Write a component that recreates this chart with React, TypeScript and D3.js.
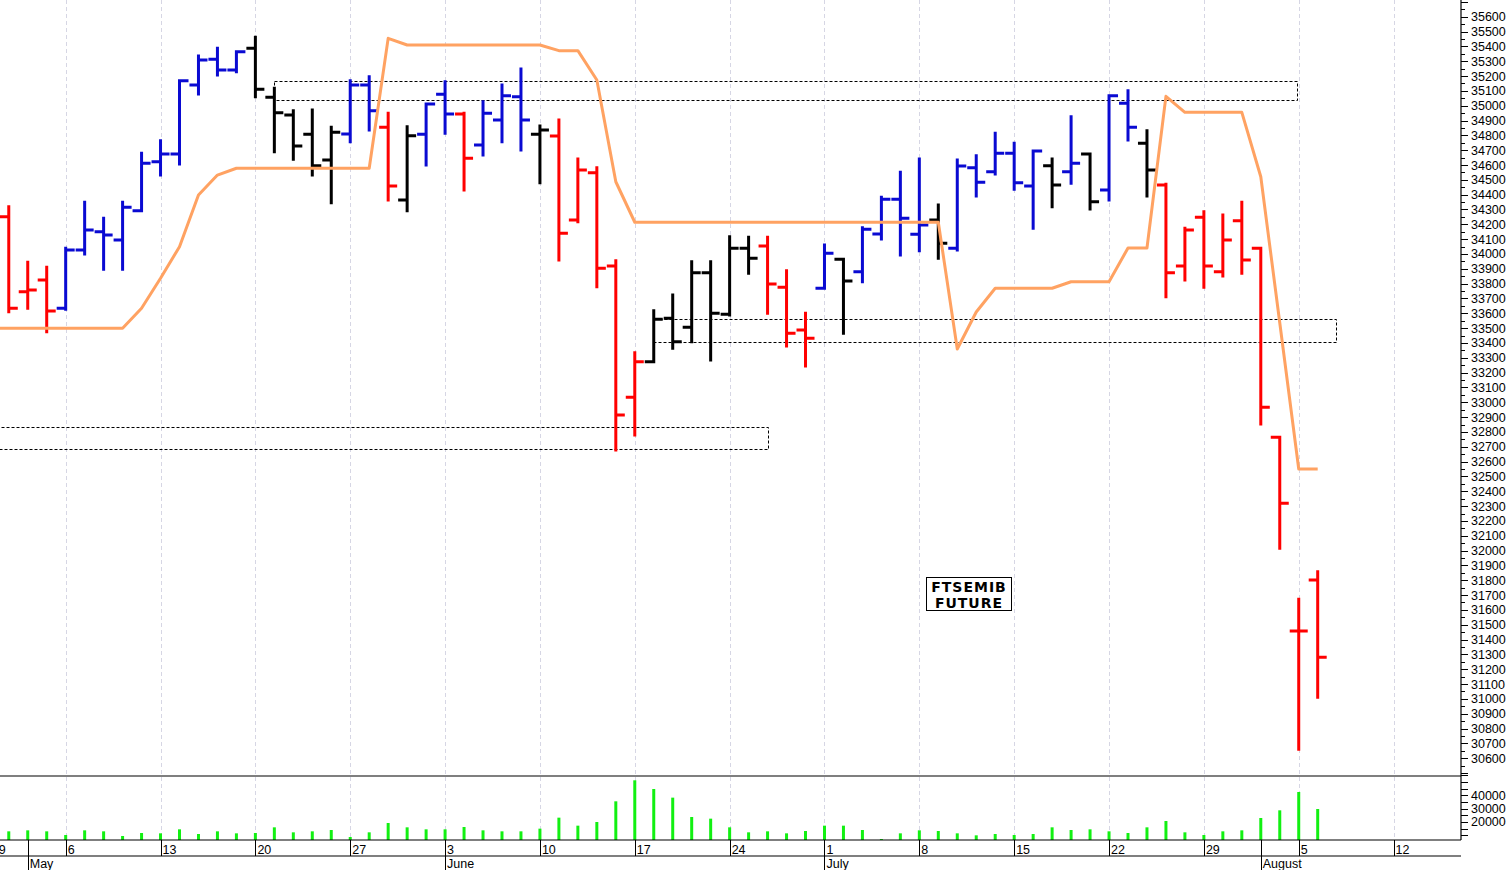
import React, { useRef, useEffect } from 'react';
import * as d3 from 'd3';

// trading calendar (Italian futures market)
const firstDay = new Date(2024, 3, 29);
const lastDay = new Date(2024, 7, 16);
const holidays = ['2024-05-01', '2024-08-15'];

// daily OHLC, FTSEMIB future, from 29 Apr 2024
const opens = [
  34350, 34251, 33746, 33825, 33634, 34027, 34150, 34094, 34292, 34622,
  34674, 35139, 35313, 35241, 35387, 35057, 34937, 34807, 34634, 34809,
  35139, 34854, 34364, 34807, 35077, 34944, 34735, 34903, 35061, 34807,
  34796, 34229, 34548, 33919, 33034, 33274, 33566, 33506, 33874, 33594,
  34038, 34054, 33775, 33487, 33769, 33964, 33880, 34135, 34369, 34133,
  34229, 34038, 34582, 34555, 34679, 34458, 34595, 34555, 34674, 34431,
  35016, 34746, 34465, 33919, 34247, 33880, 34224, 34038, 32764, 31458,
  31802,
];
const highs = [
  34420, 34319, 33944, 33910, 34038, 34349, 34241, 34349, 34679, 34764,
  35168, 35335, 35387, 35364, 35461, 35117, 34966, 34971, 34854, 35168,
  35195, 34949, 34858, 35011, 35162, 34949, 35027, 35139, 35247, 34863,
  34903, 34640, 34582, 33955, 33334, 33618, 33723, 33948, 33948, 34117,
  34112, 34112, 33887, 33600, 34061, 33964, 34177, 34382, 34551, 34640,
  34330, 34634, 34663, 34814, 34746, 34694, 34640, 34926, 34674, 35067,
  35101, 34831, 34470, 34173, 34285, 34263, 34349, 34038, 32764, 31671,
  31858,
];
const lows = [
  34180, 33611, 33634, 33476, 33627, 34000, 33897, 33897, 34292, 34533,
  34607, 35079, 35207, 35229, 35061, 34690, 34638, 34533, 34346, 34757,
  34836, 34364, 34292, 34600, 34814, 34431, 34667, 34757, 34701, 34481,
  33959, 34218, 33779, 32678, 32779, 33274, 33364, 33409, 33285, 33589,
  33870, 33600, 33380, 33245, 33769, 33465, 33813, 34101, 33993, 34022,
  33971, 34027, 34391, 34539, 34436, 34173, 34319, 34477, 34303, 34364,
  34769, 34391, 33712, 33825, 33775, 33852, 33870, 32854, 32015, 30660,
  31011,
];
const closes = [
  34280, 33634, 33757, 33616, 34027, 34162, 34128, 34315, 34611, 34674,
  35168, 35308, 35241, 35364, 35110, 34953, 34728, 34595, 34820, 35139,
  34966, 34458, 34798, 35011, 34944, 34645, 34949, 35067, 34903, 34836,
  34139, 34566, 33903, 32914, 33274, 33560, 33409, 33874, 33600, 34038,
  33971, 33798, 33465, 33431, 34005, 33818, 34166, 34369, 34241, 34195,
  34072, 34593, 34483, 34679, 34481, 34694, 34465, 34611, 34353, 35067,
  34854, 34566, 33874, 34162, 33919, 34094, 33959, 32966, 32319, 31458,
  31280,
];
// bar colour code: b = blue, d = red, n = black
const barState = 'ddddbbbbbbbbbbnnnnnbbdnbbdbbbndddddnnnnnndddbnbbbbnbbbbbnbnbbnddddddddd';

const volumes = [
  12000, 13000, 13750, 13000, 10250, 13750, 13000, 9500, 11750, 11500,
  14500, 11000, 13000, 11500, 11750, 16000, 12250, 13000, 14000, 8750,
  12250, 19250, 16000, 14500, 14500, 16250, 13750, 13000, 13000, 15000,
  23250, 17250, 20000, 35500, 51250, 44750, 38250, 23750, 22500, 16000,
  12250, 13000, 11500, 13250, 17250, 17250, 14000, 7250, 11500, 13750,
  13250, 11500, 10000, 11000, 10250, 11000, 16000, 14000, 14500, 13000,
  11750, 16000, 20750, 12250, 10250, 13000, 13750, 23000, 28750, 42500,
  29750,
];

// orange stop line
const stopLine = [
  33499, 33499, 33499, 33499, 33499, 33499, 33499, 33499, 33634, 33836,
  34049, 34398, 34532, 34578, 34578, 34578, 34578, 34578, 34578, 34578,
  34578, 35454, 35409, 35409, 35409, 35409, 35409, 35409, 35409, 35409,
  35371, 35371, 35173, 34487, 34214, 34214, 34214, 34214, 34214, 34214,
  34214, 34214, 34214, 34214, 34214, 34214, 34214, 34214, 34214, 34214,
  34214, 33359, 33609, 33769, 33769, 33769, 33769, 33813, 33813, 33813,
  34040, 34040, 35063, 34955, 34955, 34955, 34955, 34521, 33536, 32550,
  32550,
];

// dashed zones: [start bar, end bar, low, high]
const zones: [number, number, number, number][] = [
  [15, 68.95, 35038, 35166],
  [35, 70.93, 33404, 33560],
  [-1, 40.99, 32685, 32831],
];

const priceLabels = d3.range(30600, 35601, 100);
const priceTicks = d3.range(30500, 35701, 50);
const volLabels = [20000, 30000, 40000];
const volTicks = d3.range(10000, 55001, 5000);

const colors = {
  up: '#0a0ad2',
  down: '#ff0000',
  neutral: '#000000',
  stop: '#ffa262',
  volume: '#12f012',
  grid: '#d6d6e4',
  text: '#000',
};

const App: React.FC = () => {
  const svgRef = useRef<SVGSVGElement | null>(null);

  useEffect(() => {
    if (!svgRef.current) return;
    const svg = d3.select(svgRef.current);
    svg.selectAll('*').remove();

    const width = 1508;
    const height = 870;
    const axisX = 1461;
    const mainBottom = 776;
    const volBottom = 840;
    const dateBottom = 856;
    const tick = 9;

    const fmt = d3.timeFormat('%Y-%m-%d');
    const days = d3.timeDay
      .range(firstDay, lastDay)
      .filter((d) => d.getDay() !== 0 && d.getDay() !== 6 && !holidays.includes(fmt(d)));

    const x = d3.scaleLinear().domain([0, 70]).range([-10.2, 1317.7]);
    const y = d3.scaleLinear().domain([30600, 35600]).range([758.2, 16.7]);
    const vy = d3.scaleLinear().domain([6500, 54250]).range([volBottom, 776.3]);

    svg.attr('width', width).attr('height', height);
    svg.append('rect').attr('width', width).attr('height', height).attr('fill', '#fff');

    // week and month boundaries
    const weekIdx: number[] = [];
    const monthIdx: number[] = [];
    days.forEach((d, i) => {
      if (i === 0 || d.getDay() < days[i - 1].getDay()) weekIdx.push(i);
      if (i > 0 && d.getMonth() !== days[i - 1].getMonth()) monthIdx.push(i);
    });
    const visWeeks = weekIdx.filter((i) => x(i) < axisX - 20);

    // grid
    svg.append('g')
      .selectAll('line')
      .data(visWeeks)
      .join('line')
      .attr('x1', (i) => Math.round(x(i)) + 0.5)
      .attr('x2', (i) => Math.round(x(i)) + 0.5)
      .attr('y1', 0)
      .attr('y2', volBottom)
      .attr('stroke', colors.grid)
      .attr('stroke-width', 1)
      .attr('stroke-dasharray', '4,3');

    // dashed zones
    svg.append('g')
      .selectAll('rect')
      .data(zones)
      .join('rect')
      .attr('x', (z) => Math.round(x(z[0])) + 0.5)
      .attr('y', (z) => Math.round(y(z[3])) + 0.5)
      .attr('width', (z) => Math.round(x(z[1]) - x(z[0])))
      .attr('height', (z) => Math.round(y(z[2]) - y(z[3])))
      .attr('fill', 'none')
      .attr('stroke', '#000')
      .attr('stroke-width', 1)
      .attr('stroke-dasharray', '3,2');

    // OHLC bars
    const barColor = (i: number) =>
      barState[i] === 'b' ? colors.up : barState[i] === 'd' ? colors.down : colors.neutral;
    const bars = svg.append('g');
    opens.forEach((o, i) => {
      const cx = x(i);
      const path = d3.path();
      path.moveTo(cx, y(highs[i]) - 1.5);
      path.lineTo(cx, y(lows[i]) + 1.5);
      path.moveTo(cx - tick, y(o));
      path.lineTo(cx, y(o));
      path.moveTo(cx, y(closes[i]));
      path.lineTo(cx + tick, y(closes[i]));
      bars.append('path')
        .attr('d', path.toString())
        .attr('fill', 'none')
        .attr('stroke', barColor(i))
        .attr('stroke-width', 3);
    });

    // stop line
    const line = d3.line<number>().x((_, i) => x(i)).y((v) => y(v));
    svg.append('path')
      .datum(stopLine)
      .attr('d', line)
      .attr('fill', 'none')
      .attr('stroke', colors.stop)
      .attr('stroke-width', 3)
      .attr('stroke-linejoin', 'round');

    // volume
    svg.append('g')
      .selectAll('line')
      .data(volumes)
      .join('line')
      .attr('x1', (_, i) => x(i))
      .attr('x2', (_, i) => x(i))
      .attr('y1', volBottom)
      .attr('y2', (v) => vy(v))
      .attr('stroke', colors.volume)
      .attr('stroke-width', 3);

    // panel frames
    const frame = svg.append('g').attr('stroke', '#000').attr('stroke-width', 1.2);
    [mainBottom, volBottom, dateBottom].forEach((yy) => {
      frame.append('line').attr('x1', 0).attr('x2', axisX).attr('y1', yy).attr('y2', yy);
    });
    frame.append('line').attr('x1', axisX).attr('x2', axisX).attr('y1', 0).attr('y2', volBottom);

    // price axis
    const pa = svg.append('g');
    pa.selectAll('line')
      .data(priceTicks)
      .join('line')
      .attr('x1', axisX)
      .attr('x2', (v) => axisX + (v % 100 === 0 ? 7 : 4))
      .attr('y1', (v) => Math.round(y(v)) + 0.5)
      .attr('y2', (v) => Math.round(y(v)) + 0.5)
      .attr('stroke', '#000');
    pa.selectAll('text')
      .data(priceLabels)
      .join('text')
      .attr('x', axisX + 10)
      .attr('y', (v) => y(v) + 4.5)
      .attr('font-family', 'Liberation Sans, Arial, sans-serif')
      .attr('font-size', '12.5px')
      .attr('fill', colors.text)
      .text((v) => String(v));

    // volume axis
    const va = svg.append('g');
    va.selectAll('line')
      .data(volTicks)
      .join('line')
      .attr('x1', axisX)
      .attr('x2', axisX + 7)
      .attr('y1', (v) => Math.round(vy(v)) + 0.5)
      .attr('y2', (v) => Math.round(vy(v)) + 0.5)
      .attr('stroke', '#000');
    va.selectAll('text')
      .data(volLabels)
      .join('text')
      .attr('x', axisX + 10)
      .attr('y', (v) => vy(v) + 4.5)
      .attr('font-family', 'Liberation Sans, Arial, sans-serif')
      .attr('font-size', '12.5px')
      .attr('fill', colors.text)
      .text((v) => String(v));

    // date axis
    const da = svg.append('g');
    da.selectAll('line.week')
      .data(weekIdx)
      .join('line')
      .attr('x1', (i) => Math.round(x(i)) + 0.5)
      .attr('x2', (i) => Math.round(x(i)) + 0.5)
      .attr('y1', volBottom)
      .attr('y2', (i) => (monthIdx.includes(i) ? height : dateBottom))
      .attr('stroke', '#000');
    da.selectAll('line.month')
      .data(monthIdx)
      .join('line')
      .attr('x1', (i) => Math.round(x(i)) + 0.5)
      .attr('x2', (i) => Math.round(x(i)) + 0.5)
      .attr('y1', volBottom)
      .attr('y2', height)
      .attr('stroke', '#000');
    da.selectAll('text.week')
      .data(weekIdx.filter((i) => x(i) < axisX - 20))
      .join('text')
      .attr('x', (i) => x(i) + 2)
      .attr('y', dateBottom - 2)
      .attr('font-family', 'Liberation Sans Narrow, Arial Narrow, sans-serif')
      .attr('font-size', '12.5px')
      .attr('fill', colors.text)
      .text((i) => String(days[i].getDate()));
    da.selectAll('text.month')
      .data(monthIdx)
      .join('text')
      .attr('x', (i) => x(i) + 2)
      .attr('y', height - 2)
      .attr('font-family', 'Liberation Sans Narrow, Arial Narrow, sans-serif')
      .attr('font-size', '12.5px')
      .attr('fill', colors.text)
      .text((i) => d3.timeFormat('%B')(days[i]));

    // title box
    const tb = svg.append('g');
    tb.append('rect')
      .attr('x', 926.5)
      .attr('y', 577.5)
      .attr('width', 85)
      .attr('height', 33)
      .attr('fill', '#fff')
      .attr('stroke', '#000');
    ['FTSEMIB', 'FUTURE'].forEach((t, k) => {
      tb.append('text')
        .attr('x', 969)
        .attr('y', 592 + k * 16)
        .attr('text-anchor', 'middle')
        .attr('font-family', 'DejaVu Sans, Verdana, sans-serif')
        .attr('font-weight', 'bold')
        .attr('font-size', '14px')
        .attr('letter-spacing', '1px')
        .attr('fill', '#000')
        .text(t);
    });
  }, []);

  return (
    <svg
      ref={svgRef}
      style={{ position: 'absolute', left: 0, top: 0, display: 'block' }}
    ></svg>
  );
};

export default App;
